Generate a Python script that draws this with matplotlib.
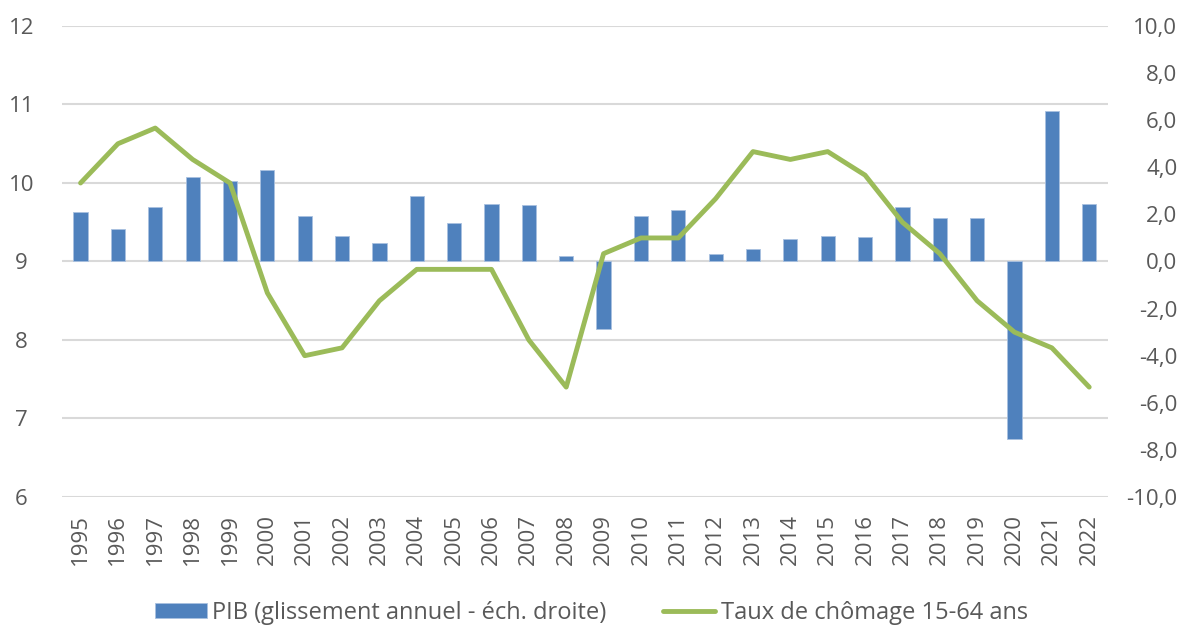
"""PIB et taux de chômage 15-64 ans, 1995-2022."""

import matplotlib.pyplot as plt
import numpy as np

years = [str(y) for y in range(1995, 2023)]

# taux de chômage 15-64 ans (%), échelle gauche
chomage = [10.0, 10.5, 10.7, 10.3, 10.0, 8.6, 7.8, 7.9, 8.5, 8.9,
           8.9, 8.9, 8.0, 7.4, 9.1, 9.3, 9.3, 9.8, 10.4, 10.3,
           10.4, 10.1, 9.5, 9.1, 8.5, 8.1, 7.9, 7.4]

# PIB, glissement annuel (%), échelle droite
pib = [2.1, 1.4, 2.3, 3.6, 3.4, 3.9, 1.95, 1.1, 0.8, 2.8,
       1.65, 2.45, 2.4, 0.25, -2.85, 1.95, 2.2, 0.3, 0.55, 0.95,
       1.1, 1.05, 2.3, 1.85, 1.85, -7.55, 6.4, 2.45]

left_ticks = [6, 7, 8, 9, 10, 11, 12]
right_ticks = [-10, -8, -6, -4, -2, 0, 2, 4, 6, 8, 10]

plt.rcParams["font.family"] = ["Open Sans", "DejaVu Sans"]
text_color = "#595959"
grid_color = "#d9d9d9"
fs = 16

fig = plt.figure(figsize=(11.9, 6.28), dpi=100)
ax = fig.add_axes([0.052, 0.2086, 0.879, 0.75])
ax2 = ax.twinx()

x = np.arange(len(years))
left_lim = (6, 12)
right_lim = (-10, 10)

# gridlines follow the left scale but sit behind the bars
for t in left_ticks:
    frac = (t - left_lim[0]) / (left_lim[1] - left_lim[0])
    ax2.axhline(right_lim[0] + frac * (right_lim[1] - right_lim[0]),
                color=grid_color, linewidth=1.5, zorder=0)

bars = ax2.bar(x, pib, width=0.38, color="#4f81bd", edgecolor="#a9c1e0",
               linewidth=0.6, zorder=2,
               label="PIB (glissement annuel - éch. droite)")
ax2.set_ylim(*right_lim)
ax2.set_yticks(right_ticks)
ax2.set_yticklabels([f"{v:.1f}".replace(".", ",") for v in right_ticks])

line, = ax.plot(x, chomage, color="#9bbb59", linewidth=3.5,
                solid_joinstyle="round", solid_capstyle="round",
                label="Taux de chômage 15-64 ans")
ax.set_ylim(*left_lim)
ax.set_yticks(left_ticks)
ax.set_xlim(-0.5, len(years) - 0.5)
ax.set_xticks(x)
ax.set_xticklabels(years, rotation=90)

ax.set_zorder(ax2.get_zorder() + 1)
ax.patch.set_visible(False)

for a in (ax, ax2):
    for s in a.spines.values():
        s.set_visible(False)

ax.tick_params(axis="x", length=0, pad=12, labelsize=fs, labelcolor=text_color)
ax.tick_params(axis="y", length=0, pad=29, labelsize=fs, labelcolor=text_color)
for t in ax.get_yticklabels():
    t.set_horizontalalignment("center")
ax2.tick_params(axis="y", length=0, pad=50, labelsize=fs, labelcolor=text_color)
for t in ax2.get_yticklabels():
    t.set_horizontalalignment("right")

fig.legend(handles=[bars, line], loc="center", ncol=2,
           bbox_to_anchor=(0.497, 0.024), frameon=False, fontsize=17,
           labelcolor=text_color, handlelength=2.2, handleheight=0.6,
           handletextpad=0.25, columnspacing=2.4, borderpad=0)

fig.savefig("out.png", dpi=100)
